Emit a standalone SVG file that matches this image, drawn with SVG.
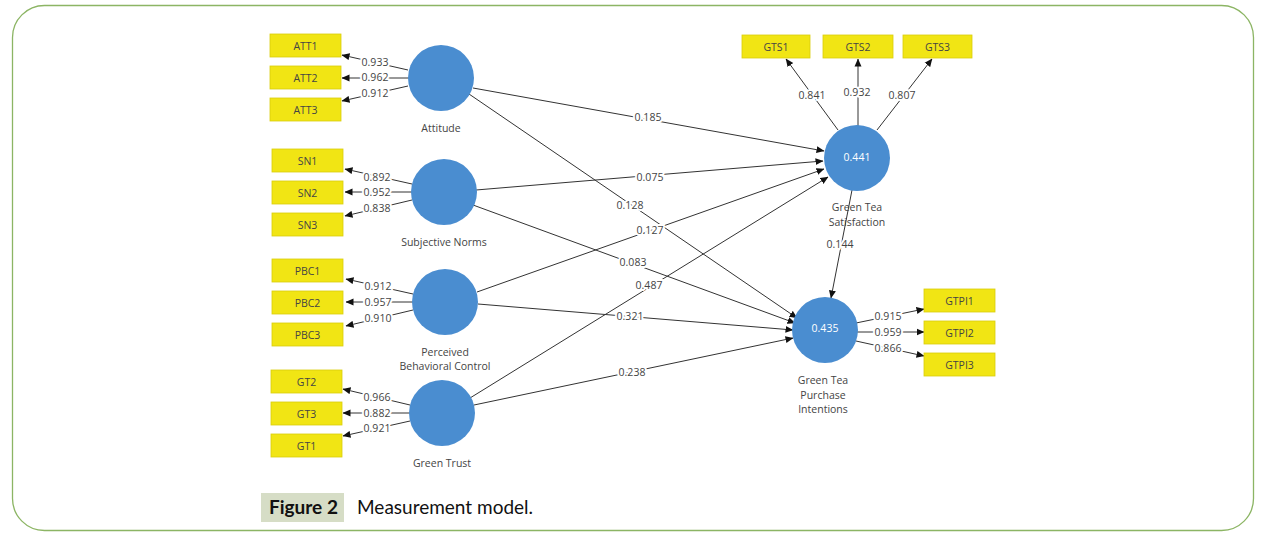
<svg xmlns="http://www.w3.org/2000/svg" width="1265" height="538" viewBox="0 0 1265 538">
<style>
.ind{fill:#f1e514;stroke:#d9cd0c;stroke-width:0.8}
.indt{font-family:"Open Sans","Noto Sans",sans-serif;font-size:10.5px;fill:#444;text-anchor:middle;dominant-baseline:central}
.lv{fill:#4a8dd0}
.lvt{font-family:"Open Sans","Noto Sans",sans-serif;font-size:10.5px;fill:#444;text-anchor:middle}
.r2{font-family:"Open Sans","Noto Sans",sans-serif;font-size:10.5px;fill:#fff;text-anchor:middle;dominant-baseline:central}
.ln{stroke:#333;stroke-width:1;fill:none;marker-end:url(#ah)}
.lb{font-family:"Open Sans","Noto Sans",sans-serif;font-size:10.5px;fill:#444;text-anchor:middle;dominant-baseline:central;stroke:#fff;stroke-width:4;paint-order:stroke;stroke-linejoin:round}
</style>
<defs>
<marker id="ah" markerWidth="8" markerHeight="8" refX="7.5" refY="4" orient="auto" markerUnits="userSpaceOnUse">
<path d="M0,0.5 L8,4 L0,7.5 z" fill="#111"/>
</marker>
</defs>
<rect x="0" y="0" width="1265" height="538" fill="#fff"/>
<rect x="12.5" y="5.5" width="1241" height="525" rx="32" ry="32" fill="none" stroke="#8cb564" stroke-width="1.3"/>

<g id="connectors">
<!-- Attitude loadings -->
<line class="ln" x1="408" y1="70" x2="342" y2="55"/>
<line class="ln" x1="409" y1="78" x2="342" y2="78"/>
<line class="ln" x1="408" y1="86" x2="342" y2="101"/>
<!-- SN loadings -->
<line class="ln" x1="412" y1="184" x2="345" y2="169"/>
<line class="ln" x1="412" y1="192" x2="345" y2="192"/>
<line class="ln" x1="412" y1="200" x2="345" y2="216"/>
<!-- PBC loadings -->
<line class="ln" x1="413" y1="294" x2="346" y2="279"/>
<line class="ln" x1="413" y1="302" x2="346" y2="302"/>
<line class="ln" x1="413" y1="310" x2="346" y2="326"/>
<!-- GT loadings -->
<line class="ln" x1="410" y1="405" x2="343" y2="389"/>
<line class="ln" x1="410" y1="413" x2="343" y2="413"/>
<line class="ln" x1="410" y1="421" x2="343" y2="436"/>
<!-- GTS loadings -->
<line class="ln" x1="838" y1="130" x2="786" y2="59"/>
<line class="ln" x1="858" y1="126" x2="858" y2="59"/>
<line class="ln" x1="877" y1="130" x2="932" y2="59"/>
<!-- GTPI loadings -->
<line class="ln" x1="856" y1="323" x2="924" y2="309"/>
<line class="ln" x1="857" y1="332" x2="924" y2="332"/>
<line class="ln" x1="856" y1="341" x2="924" y2="356"/>
<!-- structural paths -->
<line class="ln" x1="473" y1="88" x2="824" y2="151"/>
<line class="ln" x1="469" y1="94" x2="797" y2="318"/>
<line class="ln" x1="476" y1="190" x2="823" y2="161"/>
<line class="ln" x1="473" y1="205" x2="795" y2="323"/>
<line class="ln" x1="477" y1="292" x2="824" y2="169"/>
<line class="ln" x1="478" y1="304" x2="793" y2="330"/>
<line class="ln" x1="470" y1="398" x2="828" y2="177"/>
<line class="ln" x1="474" y1="405" x2="793" y2="338"/>
<line class="ln" x1="852" y1="190" x2="831" y2="298"/>
<!-- labels -->
<text class="lb" x="375" y="62">0.933</text>
<text class="lb" x="375" y="77">0.962</text>
<text class="lb" x="375" y="93">0.912</text>
<text class="lb" x="377" y="177">0.892</text>
<text class="lb" x="377" y="192">0.952</text>
<text class="lb" x="377" y="208">0.838</text>
<text class="lb" x="378" y="286">0.912</text>
<text class="lb" x="378" y="302">0.957</text>
<text class="lb" x="378" y="318">0.910</text>
<text class="lb" x="377" y="397">0.966</text>
<text class="lb" x="377" y="413">0.882</text>
<text class="lb" x="377" y="428">0.921</text>
<text class="lb" x="812" y="95">0.841</text>
<text class="lb" x="857" y="92">0.932</text>
<text class="lb" x="902" y="95">0.807</text>
<text class="lb" x="888" y="316">0.915</text>
<text class="lb" x="888" y="332">0.959</text>
<text class="lb" x="888" y="348">0.866</text>
<text class="lb" x="648" y="117">0.185</text>
<text class="lb" x="630" y="205">0.128</text>
<text class="lb" x="650" y="177">0.075</text>
<text class="lb" x="633" y="262">0.083</text>
<text class="lb" x="650" y="230">0.127</text>
<text class="lb" x="630" y="316">0.321</text>
<text class="lb" x="649" y="285">0.487</text>
<text class="lb" x="632" y="372">0.238</text>
<text class="lb" x="840" y="244">0.144</text>
</g>

<g id="ATT1"><rect class="ind" x="270" y="34" width="71" height="23"/><text class="indt" x="305.5" y="45.5">ATT1</text></g>
<g id="ATT2"><rect class="ind" x="270" y="66" width="71" height="23"/><text class="indt" x="305.5" y="77.5">ATT2</text></g>
<g id="ATT3"><rect class="ind" x="270" y="98" width="71" height="23"/><text class="indt" x="305.5" y="109.5">ATT3</text></g>
<g id="SN1"><rect class="ind" x="272" y="149" width="71" height="23"/><text class="indt" x="307.5" y="160.5">SN1</text></g>
<g id="SN2"><rect class="ind" x="272" y="181" width="71" height="23"/><text class="indt" x="307.5" y="192.5">SN2</text></g>
<g id="SN3"><rect class="ind" x="272" y="213" width="71" height="23"/><text class="indt" x="307.5" y="224.5">SN3</text></g>
<g id="PBC1"><rect class="ind" x="272" y="259" width="71" height="23"/><text class="indt" x="307.5" y="270.5">PBC1</text></g>
<g id="PBC2"><rect class="ind" x="272" y="291" width="71" height="23"/><text class="indt" x="307.5" y="302.5">PBC2</text></g>
<g id="PBC3"><rect class="ind" x="272" y="323" width="71" height="23"/><text class="indt" x="307.5" y="334.5">PBC3</text></g>
<g id="GT2"><rect class="ind" x="271" y="370" width="71" height="23"/><text class="indt" x="306.5" y="381.5">GT2</text></g>
<g id="GT3"><rect class="ind" x="271" y="402" width="71" height="23"/><text class="indt" x="306.5" y="413.5">GT3</text></g>
<g id="GT1"><rect class="ind" x="271" y="434" width="71" height="23"/><text class="indt" x="306.5" y="445.5">GT1</text></g>
<g id="GTS1"><rect class="ind" x="742" y="35" width="68" height="23"/><text class="indt" x="776" y="46.5">GTS1</text></g>
<g id="GTS2"><rect class="ind" x="823" y="35" width="70" height="23"/><text class="indt" x="858" y="46.5">GTS2</text></g>
<g id="GTS3"><rect class="ind" x="903" y="35" width="69" height="23"/><text class="indt" x="937.5" y="46.5">GTS3</text></g>
<g id="GTPI1"><rect class="ind" x="924" y="289" width="71" height="23"/><text class="indt" x="959.5" y="300.5">GTPI1</text></g>
<g id="GTPI2"><rect class="ind" x="924" y="321" width="71" height="23"/><text class="indt" x="959.5" y="332.5">GTPI2</text></g>
<g id="GTPI3"><rect class="ind" x="924" y="353" width="71" height="23"/><text class="indt" x="959.5" y="364.5">GTPI3</text></g>

<g id="Attitude"><circle class="lv" cx="441" cy="78" r="33"/><text class="lvt" x="441" y="132">Attitude</text></g>
<g id="SubjectiveNorms"><circle class="lv" cx="444" cy="192" r="33"/><text class="lvt" x="444" y="246">Subjective Norms</text></g>
<g id="PBC"><circle class="lv" cx="445" cy="302" r="33"/><text class="lvt" x="445" y="356">Perceived</text><text class="lvt" x="445" y="370">Behavioral Control</text></g>
<g id="GreenTrust"><circle class="lv" cx="442" cy="413" r="33"/><text class="lvt" x="442" y="467">Green Trust</text></g>
<g id="GTS"><circle class="lv" cx="857" cy="158" r="33"/><text class="r2" x="857" y="157">0.441</text><text class="lvt" x="857" y="211">Green Tea</text><text class="lvt" x="857" y="226">Satisfaction</text></g>
<g id="GTPI"><circle class="lv" cx="825" cy="330" r="33"/><text class="r2" x="825" y="328">0.435</text><text class="lvt" x="823" y="384">Green Tea</text><text class="lvt" x="823" y="399">Purchase</text><text class="lvt" x="823" y="413">Intentions</text></g>

<g id="caption">
<rect x="261" y="493" width="83" height="29" fill="#d6ddc6"/>
<text x="269" y="514" font-family="Lato,'Open Sans',sans-serif" font-weight="bold" font-size="19" fill="#111">Figure 2</text>
<text x="357" y="514" font-family="Lato,'Open Sans',sans-serif" font-size="19" fill="#111">Measurement model.</text>
</g>
</svg>
